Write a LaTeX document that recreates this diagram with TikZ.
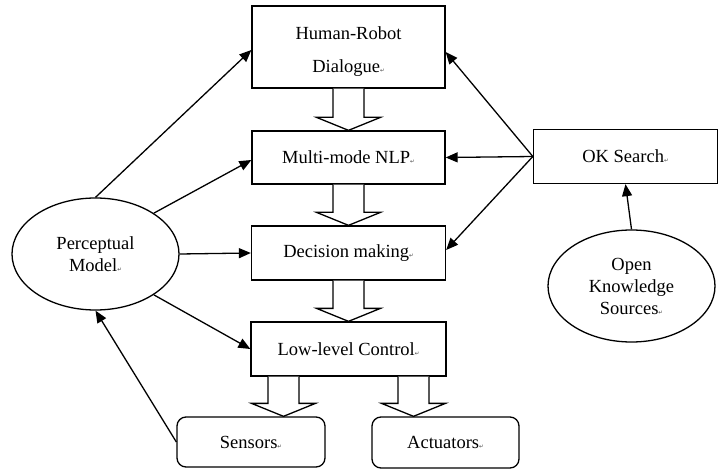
\documentclass[tikz,border=0pt]{standalone}
\usepackage{fontspec}
\setmainfont{Liberation Serif}
\newfontfamily\symfont{DejaVu Sans}
\usetikzlibrary{arrows.meta,calc,shapes.geometric}
\newcommand\retmk{{\symfont\fontsize{5.5}{5.5}\selectfont\color{darkgray}\char"21B5}}
\newcommand\harrow[2]{\draw[hollow] ($(#1)+(-15.5,0)$) -- ($(#2)+(-15.5,-13)$) -- ($(#2)+(-32,-13)$) -- (#2) -- ($(#2)+(32,-13)$) -- ($(#2)+(15.5,-13)$) -- ($(#1)+(15.5,0)$);}
\begin{document}
\begin{tikzpicture}[x=1pt,y=-1pt,
 box/.style={draw,line width=1.3pt,inner sep=0pt,font=\fontsize{18.5}{22}\selectfont,align=center},
 ell/.style={draw,ellipse,line width=1.3pt,inner sep=0pt,minimum width=167pt,minimum height=112pt,font=\fontsize{18.5}{22}\selectfont,align=center},
 con/.style={line width=1.3pt,-{Triangle[length=12pt,width=10pt]}},
 hollow/.style={draw,fill=white,line width=1.3pt,line join=miter}]
\useasboundingbox (0,0) rectangle (719,470);
\node[box,minimum width=193pt,minimum height=82pt,font=\fontsize{18.5}{33}\selectfont] (hrd) at (348.5,47) {\rule{0pt}{22pt}Human-Robot\\Dialogue\retmk};
\node[box,minimum width=193pt,minimum height=53pt] (nlp) at (348.5,157.5) {Multi-mode NLP\retmk};
\node[box,minimum width=194pt,minimum height=54pt] (dm) at (348.5,253) {Decision making\retmk};
\node[box,minimum width=195pt,minimum height=54pt] (llc) at (348.5,349) {Low-level Control\retmk};
\node[box,rounded corners=9pt,minimum width=148pt,minimum height=50pt] (sen) at (251,442) {Sensors\retmk};
\node[box,rounded corners=9pt,minimum width=147pt,minimum height=51pt] (act) at (445.5,442.5) {Actuators\retmk};
\node[ell] (pm) at (95.5,254) {Perceptual\\Model\retmk};
\node[box,minimum width=184pt,minimum height=54pt] (oks) at (625.5,156.5) {OK Search\retmk};
\node[ell] (oksrc) at (631.5,286) {Open\\Knowledge\\Sources\retmk};
\coordinate (sx) at (283.5,0);
\coordinate (ax) at (413.5,0);
\harrow{hrd.south}{nlp.north}
\harrow{nlp.south}{dm.north}
\harrow{dm.south}{llc.north}
\harrow{llc.south -| sx}{sen.north -| sx}
\harrow{llc.south -| ax}{act.north -| ax}
\draw[con] (pm.north) -- ([yshift=-3pt]hrd.west);
\draw[con] (pm.35) -- ([yshift=-2.5pt]nlp.west);
\draw[con] (pm.east) -- (dm.west);
\draw[con] (pm.-35) -- (llc.west);
\draw[con] (sen.west) -- (pm.south);
\draw[con] (oks.west) -- ([yshift=-5pt]hrd.east);
\draw[con] (oks.west) -- (nlp.east);
\draw[con] (oks.west) -- ([yshift=3pt]dm.east);
\draw[con] (oksrc.north) -- (oks.south);
\end{tikzpicture}
\end{document}
